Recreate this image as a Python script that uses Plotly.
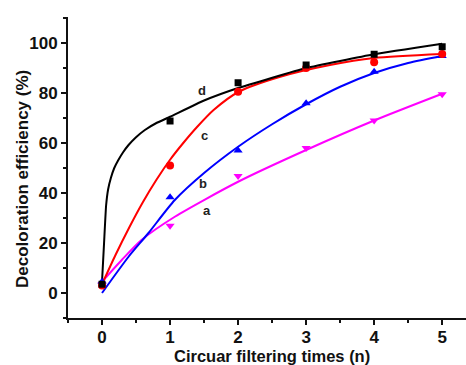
import plotly.graph_objects as go

# measured points
n_points = [0, 1, 2, 3, 4, 5]
a_vals = [3.5, 26.9, 46.8, 58.0, 69.0, 79.5]
b_vals = [4.5, 38.3, 57.0, 75.9, 88.5, 94.8]
c_vals = [3.0, 51.0, 80.5, 90.0, 92.3, 95.6]
d_vals = [3.5, 68.8, 84.1, 91.2, 95.5, 98.5]

# fitted curves
a_fit_x = [0, 0.29, 0.58, 1.07, 2, 3, 4, 5]
a_fit_y = [4.5, 13.2, 21.2, 30.5, 44.5, 57.2, 69.0, 79.7]
b_fit_x = [0, 0.39, 0.68, 1.07, 1.5, 2, 2.5, 3, 3.5, 4, 4.5, 5]
b_fit_y = [0.0, 14.5, 23.9, 37.2, 48.0, 58.5, 67.5, 75.5, 82.5, 88.0, 92.0, 94.8]
c_fit_x = [0, 0.2, 0.4, 0.6, 0.8, 1.0, 1.2, 1.4, 1.64, 2.01, 2.62, 3.35, 4, 5]
c_fit_y = [3.5, 15.3, 26.2, 36.3, 45.3, 53.3, 60.2, 66.5, 73.2, 80.5, 86.5, 91.2, 94.0, 95.6]
d_fit_x = [0, 0.03, 0.06, 0.09, 0.13, 0.18, 0.24, 0.31, 0.39, 0.5, 0.63, 0.8, 1, 1.5, 2, 3, 4, 5]
d_fit_y = [4.5, 20.0, 35.0, 41.5, 46.0, 50.0, 53.2, 56.3, 59.2, 62.3, 65.2, 68.0, 70.5, 77.0, 82.0, 90.0, 95.5, 99.7]

labels = ["a", "b", "c", "d"]
label_x = [1.54, 1.49, 1.51, 1.47]
label_y = [33, 44, 63, 81]

x_ticks = [0, 1, 2, 3, 4, 5]
y_ticks = [0, 20, 40, 60, 80, 100]

series = [
    ("a", a_vals, a_fit_x, a_fit_y, "#FF00FF", "triangle-down", 8, 0.7),
    ("b", b_vals, b_fit_x, b_fit_y, "#0000FF", "triangle-up", 8, 0.7),
    ("c", c_vals, c_fit_x, c_fit_y, "#FF0000", "circle", 8, 0.7),
    ("d", d_vals, d_fit_x, d_fit_y, "#000000", "square", 7, 0.4),
]

fig = go.Figure()
for name, vals, fx, fy, col, sym, ms, sm in series:
    fig.add_trace(go.Scatter(x=fx, y=fy, mode="lines",
                             line=dict(color=col, width=2, shape="spline", smoothing=sm),
                             showlegend=False, hoverinfo="skip"))
for name, vals, fx, fy, col, sym, ms, sm in series:
    fig.add_trace(go.Scatter(x=n_points, y=vals, mode="markers",
                             marker=dict(color=col, symbol=sym, size=ms),
                             showlegend=False, name=name))

for t, lx, ly in zip(labels, label_x, label_y):
    fig.add_annotation(x=lx, y=ly, text="<b>%s</b>" % t, showarrow=False,
                       font=dict(family="Liberation Sans", size=13, color="#222"))

FONT = "Liberation Sans"
axis_font = dict(family=FONT, size=17, color="#111")
title_font = dict(family=FONT, size=16.5, color="#111")

# axis titles placed as annotations (paper coordinates)
fig.add_annotation(xref="paper", yref="paper", x=(272 - 68) / 398, y=(318 - 355.5) / 301,
                   text="<b>Circuar filtering times (n)</b>", showarrow=False,
                   font=title_font, xanchor="center", yanchor="middle")
fig.add_annotation(xref="paper", yref="paper", x=(22 - 68) / 398, y=(318 - 179) / 301,
                   text="<b>Decoloration efficiency (%)</b>", showarrow=False, textangle=-90,
                   font=axis_font, xanchor="center", yanchor="middle")

fig.update_layout(
    width=466, height=365,
    margin=dict(l=68, r=0, t=17, b=47),
    paper_bgcolor="white", plot_bgcolor="white",
    font=dict(family=FONT, size=17, color="#111"),
    xaxis=dict(range=[-0.5, 5.35], tickmode="array", tickvals=x_ticks,
               ticktext=["<b>%d</b>" % v for v in x_ticks],
               showgrid=False, zeroline=False, showline=True, linecolor="#111", linewidth=2,
               ticks="outside", ticklen=5, tickwidth=2, tickcolor="#111",
               minor=dict(dtick=0.5, tick0=0, ticks="outside", ticklen=3, tickwidth=2, tickcolor="#111"),
               tickfont=axis_font, ticklabelstandoff=-2, automargin=False),
    yaxis=dict(range=[-10, 110.4], tickmode="array", tickvals=y_ticks,
               ticktext=["<b>%d</b>" % v for v in y_ticks],
               showgrid=False, zeroline=False, showline=True, linecolor="#111", linewidth=2,
               ticks="outside", ticklen=5, tickwidth=2, tickcolor="#111",
               minor=dict(dtick=10, tick0=0, ticks="outside", ticklen=3, tickwidth=2, tickcolor="#111"),
               tickfont=axis_font, automargin=False),
)

fig.write_html("out.html", post_script="document.body.style.margin='0';",
               config={"displayModeBar": False})
